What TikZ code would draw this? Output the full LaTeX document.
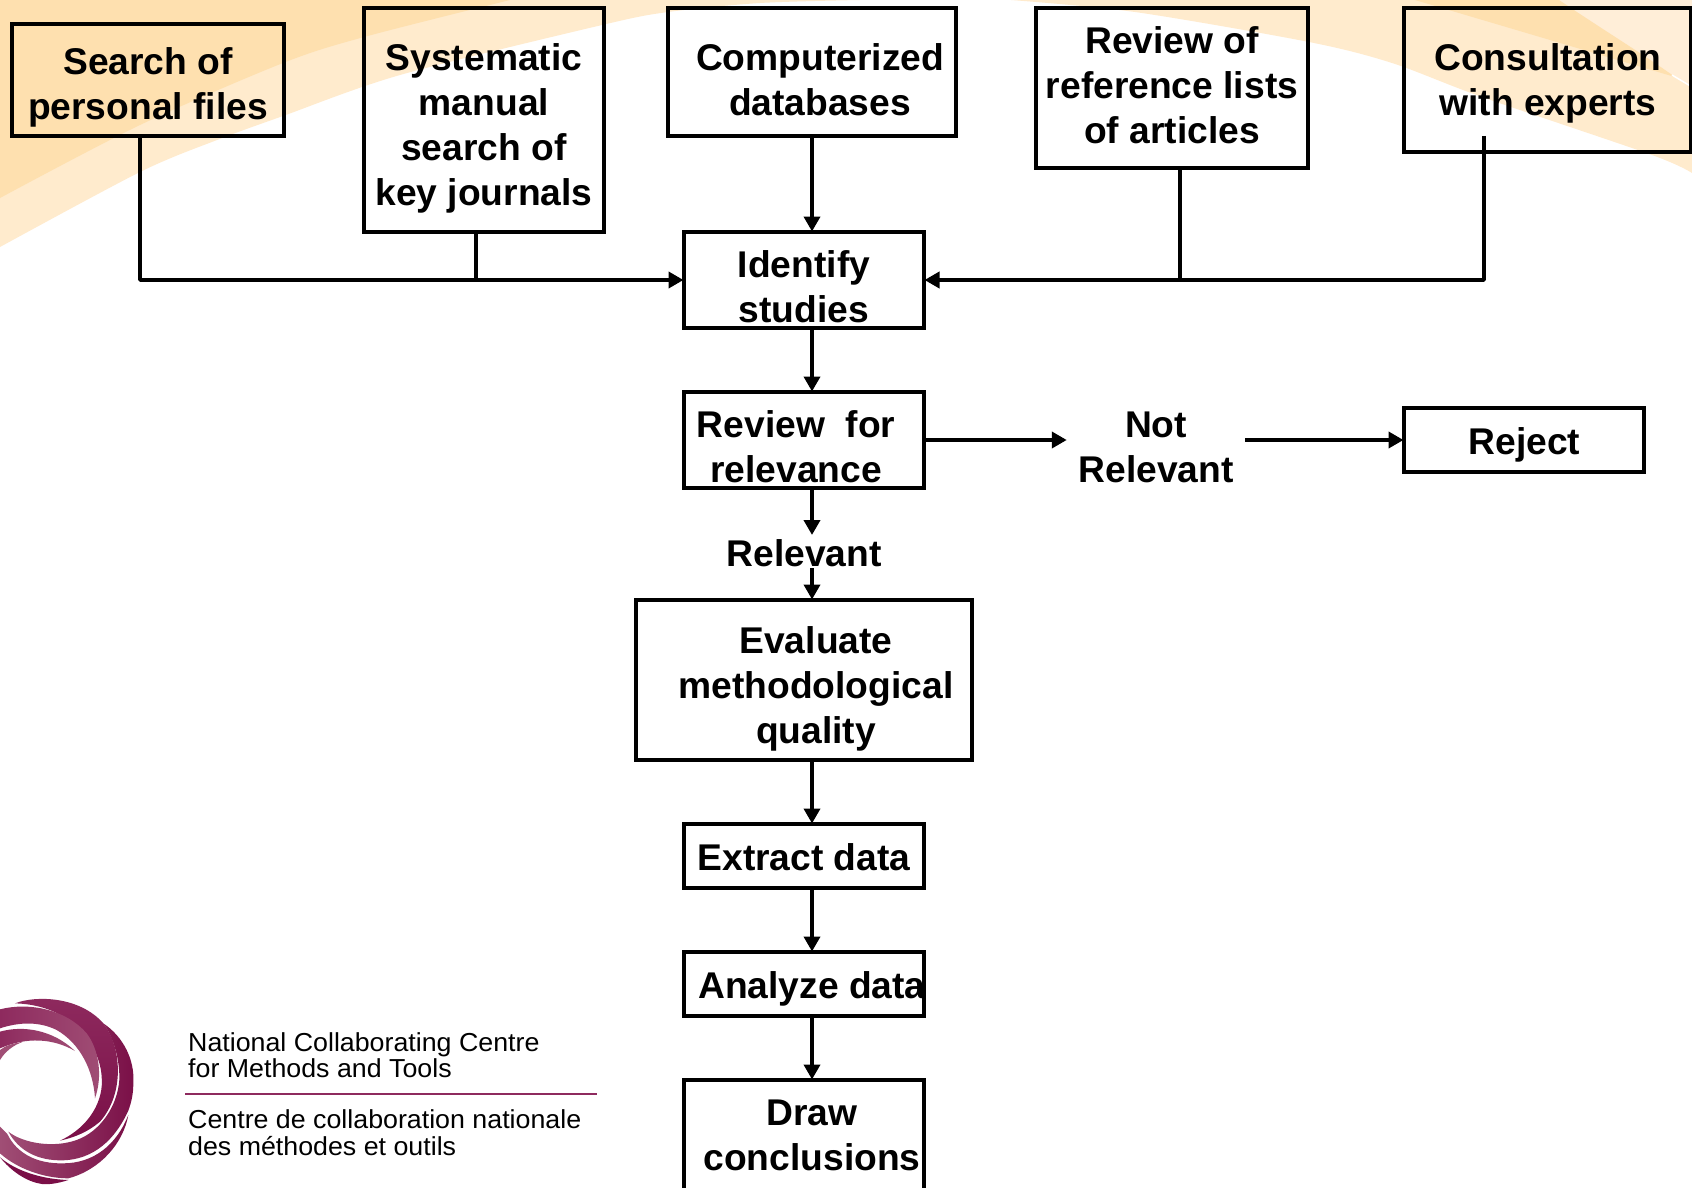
\documentclass[tikz,border=0pt]{standalone}
\usepackage{fontspec}
\setmainfont{Liberation Sans}
\newfontfamily\logofont[FakeStretch=1.03]{Liberation Sans}
\usetikzlibrary{arrows.meta}
\newcommand\st{\rule[-10pt]{0pt}{40pt}}
\definecolor{bgdark}{HTML}{FEE0AF}
\definecolor{bglight}{HTML}{FFEBCD}
\definecolor{bgpale}{HTML}{FFEED8}
\definecolor{plumdark}{HTML}{7A0F47}
\definecolor{plummid}{HTML}{8E2A5E}
\definecolor{plumlight}{HTML}{A04E75}
\tikzset{
  boxn/.style={draw=black,line width=4pt,inner sep=0pt},
  txt/.style={font=\fontsize{37.2}{45}\selectfont\bfseries,anchor=north,inner sep=0pt,align=center,text=black},
  conn/.style={draw=black,line width=4pt,line join=bevel},
  arr/.style={conn,shorten >=-1.5pt,-{Triangle[width=16pt,length=15pt]}},
  logotxt/.style={font=\logofont\fontsize{26}{26}\selectfont,anchor=base west,inner sep=0pt,text=black},
  band/.style={draw=none}
}
\begin{document}
\begin{tikzpicture}[x=1pt,y=-1pt]
\useasboundingbox (0,0) rectangle (1692,1188);
\begin{scope}
\clip (0,0) rectangle (1692,1188);
% background swooshes
\fill[white] (0,0) rectangle (1692,1188);
\fill[bglight] (0,0) -- (860,0) -- plot[smooth] coordinates {(860,0) (760,3) (668,12) (602,25) (400,75) (283,116) (217,140) (140,172) (0,247)} -- cycle;
\fill[bgdark] (0,0) -- (510,0) -- plot[smooth] coordinates {(510,0) (364,37) (283,63) (140,125) (0,198)} -- cycle;
\fill[bglight] plot[smooth] coordinates {(1011,0) (1135,12) (1309,42) (1392,63) (1482,97) (1652,155) (1692,173)} -- (1692,0) -- cycle;
\fill[bgpale] (1559,0) -- (1692,0) -- (1692,87) -- (1675,77) -- cycle;
\fill[bgdark] (1415,0) -- (1559,0) .. controls (1600,28) and (1640,52) .. (1675,77) -- cycle;
\draw[white,line width=1.5pt] (1672,75) -- (1692,87);
% logo
\begin{scope}[shift={(0,980)},x=0.3333pt,y=-0.3333pt]
\shade[band,left color=plummid,right color=plumdark,shading angle=0]
  (45,70) .. controls (110,45) and (240,50) .. (310,130)
  .. controls (365,200) and (375,340) .. (300,425)
  .. controls (265,455) and (225,472) .. (180,482)
  .. controls (270,440) and (312,360) .. (305,290)
  .. controls (300,200) and (220,75) .. (45,70) -- cycle;
\shade[band,left color=plummid,right color=plumlight]
  (0,88) .. controls (90,65) and (200,90) .. (260,160)
  .. controls (298,210) and (308,290) .. (285,355)
  .. controls (280,270) and (240,190) .. (170,150)
  .. controls (120,125) and (60,125) .. (0,145) -- cycle;
\shade[band,left color=plummid,right color=plumlight]
  (0,155) .. controls (70,135) and (160,150) .. (225,213)
  .. controls (160,175) and (80,170) .. (0,205) -- cycle;
\fill[plumlight] (0,240) .. controls (15,215) and (40,195) .. (70,185)
  .. controls (40,190) and (15,197) .. (0,210) -- cycle;
\shade[band,left color=plumlight,right color=plumdark]
  (25,455) .. controls (70,490) and (160,505) .. (230,480)
  .. controls (300,455) and (352,380) .. (358,300)
  .. controls (360,240) and (340,170) .. (310,130)
  .. controls (370,170) and (405,240) .. (400,310)
  .. controls (400,340) and (395,365) .. (385,392)
  .. controls (345,480) and (280,538) .. (190,541)
  .. controls (110,543) and (55,510) .. (25,455) -- cycle;
\shade[band,left color=plumlight,right color=plumdark]
  (385,405) .. controls (350,495) and (280,550) .. (190,550)
  .. controls (110,552) and (50,520) .. (22,462)
  -- (0,440)
  -- (0,520) .. controls (50,565) and (130,595) .. (205,595)
  .. controls (300,570) and (370,490) .. (385,405) -- cycle;
\fill[plumdark] (205,600) .. controls (170,612) and (140,614) .. (125,612)
  .. controls (80,605) and (35,575) .. (0,532)
  .. controls (50,575) and (130,598) .. (205,600) -- cycle;
\end{scope}
\end{scope}
% logo text
\node[logotxt] (l1) at (188,1051) {National Collaborating Centre};
\node[logotxt] (l2) at (188,1077) {for Methods and Tools};
\node[logotxt] (l3) at (188,1128.5) {Centre de collaboration nationale};
\node[logotxt] (l4) at (188,1155) {des méthodes et outils};
\coordinate (rulea) at (185,1094);
\coordinate (ruleb) at (597,1094);
\draw[draw=plummid,line width=2.7pt] (rulea) -- (ruleb);
% boxes
\node[boxn,minimum width=272pt,minimum height=112pt] (b1) at (148,80) {};
\node[boxn,minimum width=240pt,minimum height=224pt] (b2) at (484,120) {};
\node[boxn,minimum width=288pt,minimum height=128pt] (b3) at (812,72) {};
\node[boxn,minimum width=272pt,minimum height=160pt] (b4) at (1172,88) {};
\node[boxn,minimum width=287pt,minimum height=144pt] (b5) at (1547.5,80) {};
\node[boxn,minimum width=240pt,minimum height=96pt] (identify) at (804,280) {};
\node[boxn,minimum width=240pt,minimum height=96pt] (review) at (804,440) {};
\node[boxn,minimum width=240pt,minimum height=64pt] (reject) at (1524,440) {};
\node[boxn,minimum width=336pt,minimum height=160pt] (evaluate) at (804,680) {};
\node[boxn,minimum width=240pt,minimum height=64pt] (extract) at (804,856) {};
\node[boxn,minimum width=240pt,minimum height=64pt] (analyze) at (804,984) {};
\node[boxn,minimum width=240pt,minimum height=140pt] (draw) at (804,1150) {};
% texts
\node[txt] (b1t) at (148,44) {\st Search of\\\st personal files};
\node[txt] (b2t) at (484,40) {\st Systematic\\manual\\search of\\\st key journals};
\node[txt] (b3t) at (820,40) {\st Computerized\\\st databases};
\node[txt] (b4t) at (1172,23) {\st Review of\\reference lists\\\st of articles};
\node[txt] (b5t) at (1548,40) {\st Consultation\\\st with experts};
\node[txt] (identifyt) at (804,247) {\st Identify\\\st studies};
\node[txt] (reviewt) at (796,407) {\st Review\ \ for\\\st relevance};
\node[txt] (relevant) at (804,536) {\st Relevant};
\node[txt,inner xsep=11.5pt] (notrel) at (1156,407.5) {\st Not\\\st Relevant};
\node[txt] (rejectt) at (1524.5,424) {\st Reject};
\node[txt] (evaluatet) at (816,623) {\st Evaluate\\methodological\\\st quality};
\node[txt] (extractt) at (804,840) {\st Extract data};
\node[txt] (analyzet) at (812,968) {\st Analyze data};
\node[txt] (drawt) at (812,1095) {\st Draw\\\st conclusions};
% connector points
\coordinate (spine) at (812,0);
\coordinate (x1) at (140,0);
\coordinate (x2) at (476,0);
\coordinate (x4) at (1180,0);
\coordinate (s5) at (1484,136);
\coordinate (rel2) at (812,568);
\coordinate (relend) at (812,535);
% connectors
\draw[arr] (b3.south -| spine) -- (identify.north -| spine);
\draw[arr] (b1.south -| x1) -- (identify.west -| x1) -- (identify.west);
\draw[conn] (b2.south -| x2) -- (identify.west -| x2);
\draw[arr] (s5) -- (identify.east -| s5) -- (identify.east);
\draw[conn] (b4.south -| x4) -- (identify.east -| x4);
\draw[arr] (identify.south -| spine) -- (review.north -| spine);
\draw[arr,shorten >=0pt] (review.south -| spine) -- (relend);
\draw[arr] (rel2) -- (evaluate.north -| spine);
\draw[arr,shorten >=0pt] (review.east) -- (review.east -| notrel.west);
\draw[arr] (reject.west -| notrel.east) -- (reject.west);
\draw[arr] (evaluate.south -| spine) -- (extract.north -| spine);
\draw[arr] (extract.south -| spine) -- (analyze.north -| spine);
\draw[arr] (analyze.south -| spine) -- (draw.north -| spine);
\end{tikzpicture}
\end{document}
